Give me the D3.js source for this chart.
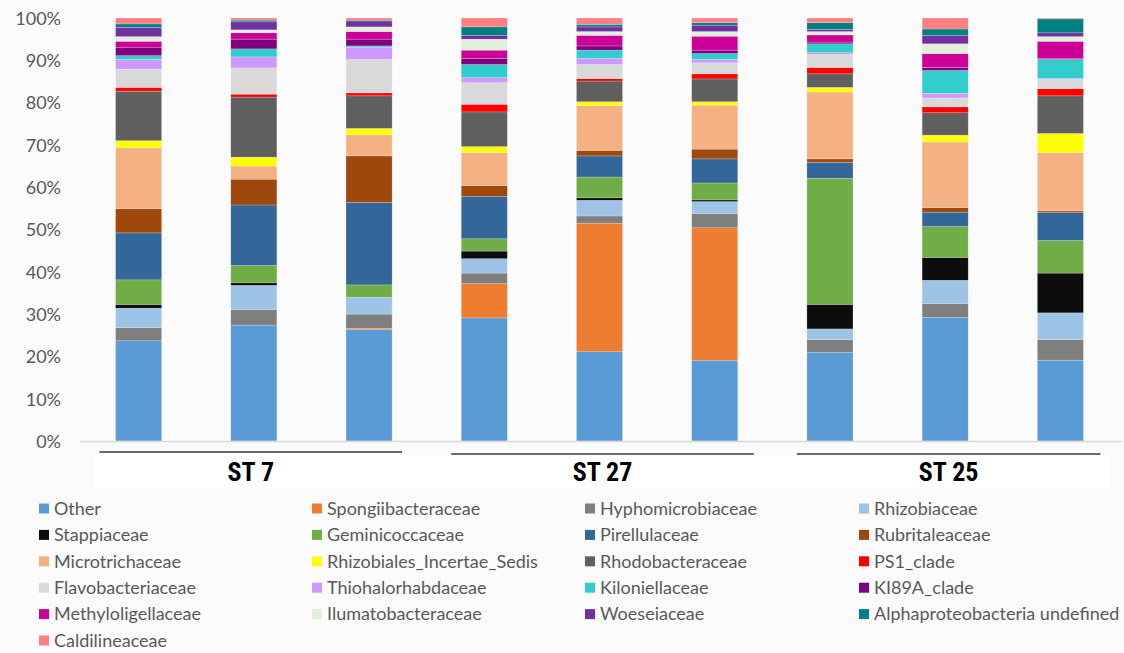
<!DOCTYPE html>
<html><head><meta charset="utf-8">
<script src="https://cdn.jsdelivr.net/npm/d3@7"></script>
<style>
html,body{margin:0;padding:0;background:#fbfbfb;}
svg{display:block;}
</style></head>
<body>
<svg id="chart" width="1124" height="653"></svg>
<script>
// ---- data ----
const samples = ["ST7-1","ST7-2","ST7-3","ST27-1","ST27-2","ST27-3","ST25-1","ST25-2","ST25-3"];
const groups = ["ST 7","ST 27","ST 25"];
const families = ["Other","Spongiibacteraceae","Hyphomicrobiaceae","Rhizobiaceae","Stappiaceae","Geminicoccaceae","Pirellulaceae","Rubritaleaceae","Microtrichaceae","Rhizobiales_Incertae_Sedis","Rhodobacteraceae","PS1_clade","Flavobacteriaceae","Thiohalorhabdaceae","Kiloniellaceae","KI89A_clade","Methyloligellaceae","Ilumatobacteraceae","Woeseiaceae","Alphaproteobacteria undefined","Caldilineaceae"];
const colors = ["#5b9bd5","#ed7d31","#7f7f7f","#9dc3e6","#0d0d0d","#70ad47","#336699","#9e480e","#f4b183","#ffff00","#5f5f5f","#ff0000","#d9d9d9","#cc99ff","#33cccc","#800080","#cc0099","#e2efda","#7030a0","#008080","#ff8080"];
const yTicks = [0,0.1,0.2,0.3,0.4,0.5,0.6,0.7,0.8,0.9,1.0];

const other        = [23.7,27.4,26.3,29.1,21.1,19.1,20.9,29.2,19.1];
const spongii      = [0,0,0.3,8.1,30.4,31.3,0,0,0];
const hyphomicro   = [3.1,3.7,3.4,2.5,1.7,3.4,3.1,3.3,4.9];
const rhizobi      = [4.6,5.7,4.0,3.4,3.7,2.8,2.5,5.5,6.3];
const stappi       = [0.9,0.6,0,1.8,0.6,0.4,5.8,5.4,9.4];
const geminico     = [5.8,4.1,2.9,2.9,4.9,4.0,29.8,7.3,7.7];
const pirellul     = [11.1,14.3,19.5,10.0,5.0,5.7,3.8,3.4,6.6];
const rubritalea   = [5.7,6.1,11.0,2.6,1.3,2.3,0.8,1.1,0.4];
const microtrich   = [14.4,3.1,5.0,7.8,10.6,10.4,15.8,15.5,13.8];
const rhizIncSed   = [1.7,2.1,1.5,1.4,0.9,0.8,1.1,1.6,4.5];
const rhodobact    = [11.7,14.2,7.7,8.2,4.9,5.4,3.2,5.3,8.9];
const ps1          = [0.9,0.7,0.7,1.8,0.6,1.2,1.5,1.4,1.7];
const flavobact    = [4.3,6.2,7.9,5.1,3.3,2.6,3.1,2.1,2.2];
const thiohalo     = [2.3,2.6,2.9,1.2,1.5,0.8,0.4,1.1,0.2];
const kiloniell    = [0.9,1.9,0.3,3.1,1.9,1.4,2.1,5.4,4.5];
const ki89a        = [2.0,2.3,1.6,1.4,1.0,0.8,0.4,0.7,0.2];
const methyloli    = [1.4,1.5,1.8,2.0,2.5,3.3,1.7,3.3,4.1];
const ilumato      = [1.1,0.7,1.1,2.6,0.9,1.1,0.8,2.3,1.1];
const woesei       = [2.2,1.9,1.4,0.9,1.1,1.5,0.5,2.0,0.9];
const alphaUndef   = [0.8,0.4,0.2,2.0,0.6,0.6,1.6,1.5,3.3];
const caldiline    = [1.4,0.5,0.5,2.1,1.5,1.1,1.1,2.6,0.2];

const seriesValues = [other,spongii,hyphomicro,rhizobi,stappi,geminico,pirellul,rubritalea,microtrich,rhizIncSed,rhodobact,ps1,flavobact,thiohalo,kiloniell,ki89a,methyloli,ilumato,woesei,alphaUndef,caldiline];

// ---- build table ----
const table = samples.map((s,i)=>{
  const row = {sample:s};
  families.forEach((f,j)=>{ row[f] = seriesValues[j][i]; });
  return row;
});

const svg = d3.select("#chart");
const x = d3.scaleBand().domain(samples).range([81,1118]).paddingInner(0.6).paddingOuter(0.3);
const y = d3.scaleLinear().domain([0,1]).range([441,18]);
const color = d3.scaleOrdinal().domain(families).range(colors);

const stack = d3.stack().keys(families).offset(d3.stackOffsetExpand);
const stacked = stack(table);

// y axis labels
const yAxis = d3.axisLeft(y).tickValues(yTicks).tickFormat(d3.format(".0%")).tickSize(0).tickPadding(0);
const ya = svg.append("g").attr("transform","translate(61,0)").call(yAxis);
ya.select(".domain").remove();
ya.selectAll("text").attr("font-family","Lato, 'Open Sans', sans-serif").attr("font-size",18).attr("fill","#595959").attr("dy","0.35em");

// bars
svg.append("g").selectAll("g").data(stacked).join("g")
  .attr("fill", d=>color(d.key))
  .selectAll("rect").data(d=>d).join("rect")
  .attr("x", d=>x(d.data.sample))
  .attr("width", x.bandwidth())
  .attr("y", d=>y(d[1]))
  .attr("height", d=>Math.max(0, y(d[0])-y(d[1])))
  .attr("stroke","#ffffff").attr("stroke-opacity",0.35).attr("stroke-width",0.6);

// x axis baseline
svg.append("line").attr("x1",80).attr("x2",1122).attr("y1",441.5).attr("y2",441.5)
  .attr("stroke","#d9d9d9").attr("stroke-width",1.5);

// group label box
svg.append("rect").attr("x",95).attr("y",455).attr("width",1015).attr("height",34).attr("fill","#ffffff");

// group brackets span the three bars of each station
const bracketPad = [[-16,10],[-10,16],[-10,17]];
const bracketY = [452,454,454];
const groupSpan = g => {
  const idx = groups.indexOf(g);
  const first = samples[idx*3], last = samples[idx*3+2];
  return [x(first) + bracketPad[idx][0], x(last) + x.bandwidth() + bracketPad[idx][1]];
};
const gl = svg.append("g").selectAll("g").data(groups).join("g");
gl.append("line")
  .attr("x1",d=>groupSpan(d)[0])
  .attr("x2",d=>groupSpan(d)[1])
  .attr("y1",(d,i)=>bracketY[i]).attr("y2",(d,i)=>bracketY[i])
  .attr("stroke","#3a3a3a").attr("stroke-width",1.6);
gl.append("text")
  .attr("x",d=>(groupSpan(d)[0]+groupSpan(d)[1])/2)
  .attr("y",481)
  .attr("text-anchor","middle")
  .attr("font-family","'Liberation Sans Narrow', 'Roboto Condensed', 'DejaVu Sans Condensed', sans-serif")
  .attr("font-weight","bold").attr("font-size",26).attr("fill","#000")
  .text(d=>d);

// legend
const legCols = [39,312,585,859];
const leg = svg.append("g").selectAll("g").data(families).join("g")
  .attr("transform",(d,i)=>`translate(${legCols[i%4]},${508.5 + Math.floor(i/4)*26.4})`);
leg.append("rect").attr("x",0).attr("y",-5).attr("width",10).attr("height",10).attr("fill",d=>color(d));
leg.append("text").attr("x",15).attr("y",0).attr("dy","0.35em")
  .attr("font-family","Lato, 'Open Sans', sans-serif").attr("font-size",18).attr("fill","#595959")
  .text(d=>d);

// cropped panel letter at bottom edge (as in the reference)
svg.append("text").attr("x",28).attr("y",666).attr("font-family","Lato, sans-serif").attr("font-size",24).attr("fill","#333").text("a");
</script>
</body></html>
